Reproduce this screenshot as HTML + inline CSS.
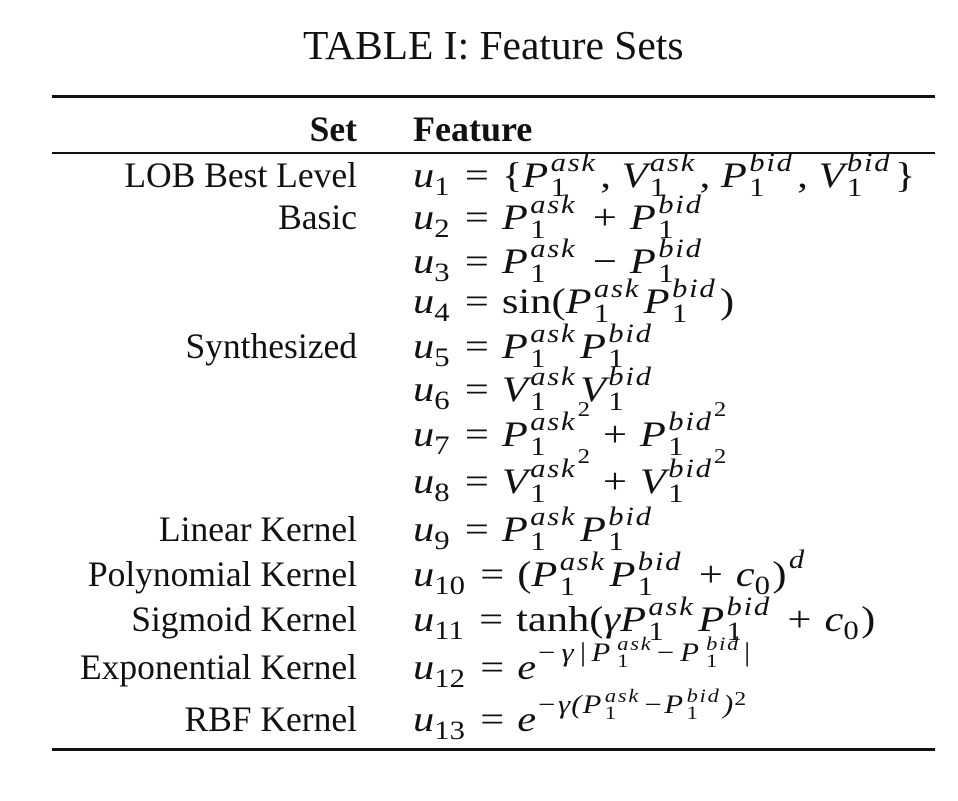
<!DOCTYPE html>
<html><head><meta charset="utf-8"><style>
html,body{margin:0;padding:0;background:#fff;}
body{width:958px;height:801px;position:relative;overflow:hidden;font-family:"Liberation Serif","DejaVu Serif",serif;color:#111;}
.t{position:absolute;font-size:41.5px;white-space:nowrap;line-height:40px;}
.rule{position:absolute;left:52px;width:883px;background:#111;}
.l{position:absolute;right:601px;font-size:35.5px;line-height:36px;white-space:nowrap;text-align:right;}
.m{position:absolute;left:413px;font-size:36px;line-height:36px;white-space:nowrap;transform:scaleX(1.18);transform-origin:0 0;}
.m.h{transform:none;}
i{font-style:italic;}
.s{position:relative;top:-16px;display:inline-block;font-size:26px;line-height:1;font-style:italic;vertical-align:baseline;margin-left:2px;margin-right:3px;letter-spacing:1.5px;}
.s .b{position:absolute;left:0;top:25px;font-style:normal;}
.sb{font-size:26px;position:relative;top:8px;margin-right:2px;}
.op{padding:0 11px;}
.sq{font-size:21px;font-style:normal;position:relative;top:-30px;margin-left:-2px;}
.e{display:inline-block;position:relative;top:-18px;font-size:26px;font-style:italic;line-height:1;vertical-align:baseline;letter-spacing:1px;}
.e .s{font-size:19px;top:-11px;margin-right:2px;}
.e .s .b{top:17px;}
</style></head><body>
<div class="t" style="left:303px;top:25px;">TABLE I: Feature Sets</div>
<div class="rule" style="top:95px;height:3px;"></div>
<div class="l" style="top:111px;font-weight:bold;">Set</div>
<div class="m h" style="top:111px;font-weight:bold;">Feature</div>
<div class="rule" style="top:152px;height:1.5px;"></div>

<div class="l" style="top:157px;">LOB Best Level</div>
<div class="l" style="top:199px;">Basic</div>
<div class="l" style="top:328px;">Synthesized</div>
<div class="l" style="top:511px;">Linear Kernel</div>
<div class="l" style="top:556px;">Polynomial Kernel</div>
<div class="l" style="top:601px;">Sigmoid Kernel</div>
<div class="l" style="top:649px;">Exponential Kernel</div>
<div class="l" style="top:701px;">RBF Kernel</div>

<div class="m" style="top:157px;"><i>u</i><span class="sb">1</span><span class="op">=</span>{<i>P</i><span class="s">ask<span class="b">1</span></span>, <i>V</i><span class="s">ask<span class="b">1</span></span>, <i>P</i><span class="s">bid<span class="b">1</span></span>, <i>V</i><span class="s">bid<span class="b">1</span></span>}</div>

<div class="m" style="top:199px;"><i>u</i><span class="sb">2</span><span class="op">=</span><i>P</i><span class="s">ask<span class="b">1</span></span><span class="op">+</span><i>P</i><span class="s">bid<span class="b">1</span></span></div>

<div class="m" style="top:243px;"><i>u</i><span class="sb">3</span><span class="op">=</span><i>P</i><span class="s">ask<span class="b">1</span></span><span class="op">−</span><i>P</i><span class="s">bid<span class="b">1</span></span></div>

<div class="m" style="top:283px;"><i>u</i><span class="sb">4</span><span class="op">=</span>sin(<i>P</i><span class="s">ask<span class="b">1</span></span><i>P</i><span class="s">bid<span class="b">1</span></span>)</div>

<div class="m" style="top:328px;"><i>u</i><span class="sb">5</span><span class="op">=</span><i>P</i><span class="s">ask<span class="b">1</span></span><i>P</i><span class="s">bid<span class="b">1</span></span></div>

<div class="m" style="top:371px;"><i>u</i><span class="sb">6</span><span class="op">=</span><i>V</i><span class="s">ask<span class="b">1</span></span><i>V</i><span class="s">bid<span class="b">1</span></span></div>

<div class="m" style="top:416px;"><i>u</i><span class="sb">7</span><span class="op">=</span><i>P</i><span class="s">ask<span class="b">1</span></span><span class="sq">2</span><span class="op">+</span><i>P</i><span class="s">bid<span class="b">1</span></span><span class="sq">2</span></div>

<div class="m" style="top:463px;"><i>u</i><span class="sb">8</span><span class="op">=</span><i>V</i><span class="s">ask<span class="b">1</span></span><span class="sq">2</span><span class="op">+</span><i>V</i><span class="s">bid<span class="b">1</span></span><span class="sq">2</span></div>

<div class="m" style="top:511px;"><i>u</i><span class="sb">9</span><span class="op">=</span><i>P</i><span class="s">ask<span class="b">1</span></span><i>P</i><span class="s">bid<span class="b">1</span></span></div>

<div class="m" style="top:556px;"><i>u</i><span class="sb">10</span><span class="op">=</span>(<i>P</i><span class="s">ask<span class="b">1</span></span><i>P</i><span class="s">bid<span class="b">1</span></span><span class="op">+</span><i>c</i><span class="sb">0</span>)<span class="s" style="top:-18px">d</span></div>

<div class="m" style="top:601px;"><i>u</i><span class="sb">11</span><span class="op">=</span>tanh(<i>γP</i><span class="s">ask<span class="b">1</span></span><i>P</i><span class="s">bid<span class="b">1</span></span><span class="op">+</span><i>c</i><span class="sb">0</span>)</div>

<div class="m" style="top:649px;"><i>u</i><span class="sb">12</span><span class="op">=</span><i>e</i><span class="e" style="letter-spacing:4px">−γ|P<span class="s">ask<span class="b">1</span></span>−P<span class="s">bid<span class="b">1</span></span>|</span></div>

<div class="m" style="top:701px;"><i>u</i><span class="sb">13</span><span class="op">=</span><i>e</i><span class="e">−γ(P<span class="s">ask<span class="b">1</span></span>−P<span class="s">bid<span class="b">1</span></span>)<span style="font-style:normal;font-size:20px;position:relative;top:-8px">2</span></span></div>

<div class="rule" style="top:748px;height:3px;"></div>
</body></html>
